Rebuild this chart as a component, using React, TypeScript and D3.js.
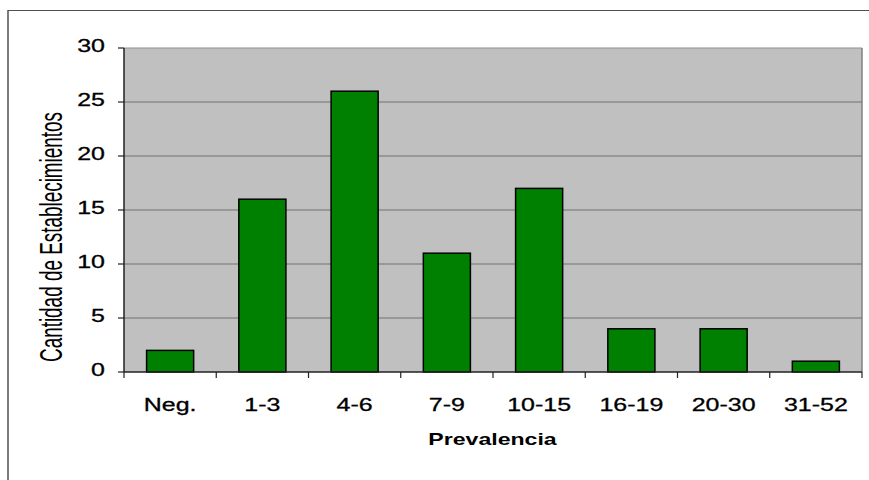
import React from "react";
import * as d3 from "d3";

const categories = ["Neg.", "1-3", "4-6", "7-9", "10-15", "16-19", "20-30", "31-52"];
const values = [2, 16, 26, 11, 17, 4, 4, 1];
const yTicks = [0, 5, 10, 15, 20, 25, 30];
const yLabel = "Cantidad de Establecimientos";
const xLabel = "Prevalencia";

export default function App() {
  const W = 869, H = 480;
  const left = 124, right = 862, top = 48, bottom = 372;
  const x = d3.scaleBand<string>().domain(categories).range([left, right]).padding(0);
  const y = d3.scaleLinear().domain([0, 30]).range([bottom, top]);
  const bw = x.bandwidth() * 0.51;
  const font = "'Liberation Sans', Arial, sans-serif";
  const sx = 1.35;
  return (
    <svg width={W} height={H} style={{ position: "absolute", left: 0, top: 0, background: "#fff" }}>
      <rect x={0} y={0} width={W} height={H} fill="#fff" />
      {/* outer frame */}
      <line x1={8} y1={10.5} x2={W} y2={10.5} stroke="#505050" strokeWidth={1.2} />
      <line x1={8} y1={10} x2={8} y2={H} stroke="#505050" strokeWidth={1.5} />
      {/* plot area */}
      <rect x={left} y={top} width={right - left} height={bottom - top} fill="#C0C0C0" />
      <line x1={left} y1={top} x2={right} y2={top} stroke="#909090" strokeWidth={1.2} />
      <line x1={right} y1={top} x2={right} y2={bottom} stroke="#808080" strokeWidth={1.5} />
      {yTicks.filter(t => t > 0 && t < 30).map(t => (
        <line key={t} x1={left} x2={right} y1={y(t)} y2={y(t)} stroke="#707070" strokeWidth={1} />
      ))}
      {categories.map((c, i) => (
        <rect key={c} x={(x(c) as number) + (x.bandwidth() - bw) / 2} y={y(values[i])}
          width={bw} height={bottom - y(values[i])} fill="#008000" stroke="#000" strokeWidth={1.5} />
      ))}
      {/* axes */}
      <line x1={left} y1={top} x2={left} y2={bottom} stroke="#222" strokeWidth={1.5} />
      <line x1={left} y1={bottom} x2={right} y2={bottom} stroke="#222" strokeWidth={1.5} />
      {yTicks.map(t => (
        <g key={t}>
          <line x1={left - 6} x2={left} y1={y(t)} y2={y(t)} stroke="#222" strokeWidth={1.2} />
          <text transform={`translate(105,${y(t) + 4}) scale(${sx},1)`} textAnchor="end"
            fontFamily={font} fontSize={18.5} fill="#000" stroke="#000" strokeWidth={0.3}>{t}</text>
        </g>
      ))}
      {[...categories.map(c => x(c) as number), right].map((px, i) => (
        <line key={i} x1={px} x2={px} y1={bottom} y2={bottom + 6} stroke="#222" strokeWidth={1.2} />
      ))}
      {categories.map(c => (
        <text key={c} transform={`translate(${(x(c) as number) + x.bandwidth() / 2},411) scale(${sx},1)`}
          textAnchor="middle" fontFamily={font} fontSize={18.5} fill="#000" stroke="#000" strokeWidth={0.3}>{c}</text>
      ))}
      <text transform="translate(492.5,445) scale(1.4,1)" textAnchor="middle" fontFamily={font}
        fontSize={16.5} fontWeight="bold" fill="#000">{xLabel}</text>
      <text transform="translate(62,237) rotate(-90)" textAnchor="middle"
        fontFamily="'Liberation Sans Narrow', 'Liberation Sans', Arial, sans-serif"
        fontSize={32} fill="#000" textLength={250} lengthAdjust="spacingAndGlyphs">{yLabel}</text>
    </svg>
  );
}
